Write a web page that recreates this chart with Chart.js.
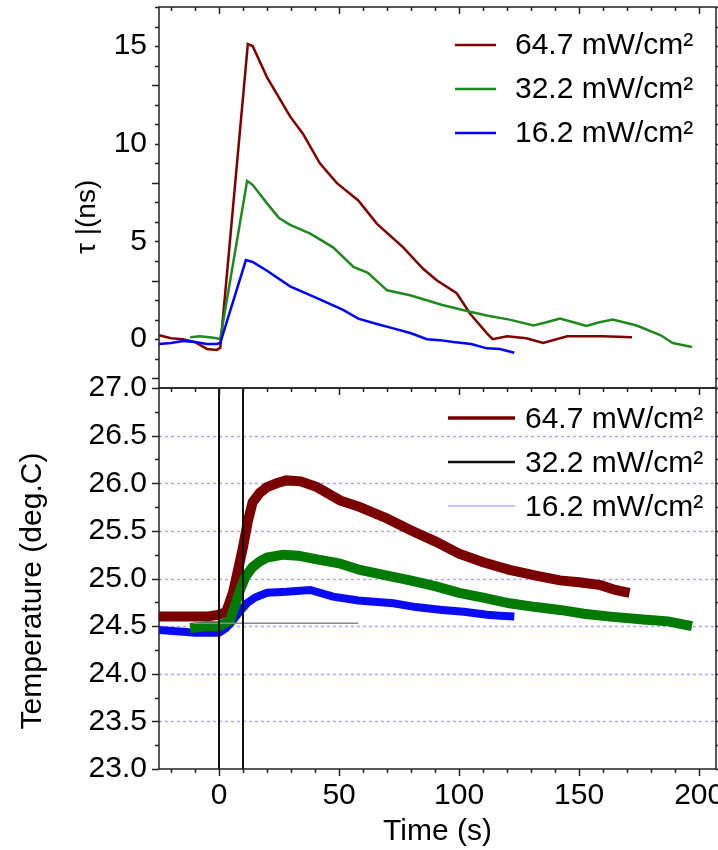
<!DOCTYPE html>
<html>
<head>
<meta charset="utf-8">
<title>Lifetime and temperature vs time</title>
<script src="https://cdn.jsdelivr.net/npm/chart.js@4.4.1/dist/chart.umd.min.js"></script>
<style>
  html, body { margin: 0; padding: 0; background: #fff; }
  #chart-box { width: 718px; height: 850px; }
</style>
</head>
<body>
<div id="chart-box"><canvas id="mainChart"></canvas></div>
<script>
// Tick labels
const timeTicks = [0, 50, 100, 150, 200];
const tauTicks = [0, 5, 10, 15];
const tempTicks = [23.0, 23.5, 24.0, 24.5, 25.0, 25.5, 26.0, 26.5, 27.0];

// Legend labels (irradiance)
const seriesLabels = ['64.7 mW/cm²', '32.2 mW/cm²', '16.2 mW/cm²'];

// Lifetime tau (ns) vs time (s), upper panel
const tau64Time = [-25, -20, -15, -10, -5, -1, 0.5, 12, 14, 20, 29.6, 35, 42, 49, 58, 65.8, 76.7, 85, 90.8, 99, 104.6, 111.6, 114, 120, 128, 135, 145, 160, 172];
const tau64Value = [0.2, 0.05, 0.0, -0.15, -0.5, -0.55, -0.45, 15.1, 15.0, 13.4, 11.4, 10.5, 9.0, 8.0, 7.1, 5.9, 4.7, 3.6, 3.0, 2.35, 1.3, 0.3, 0.0, 0.15, 0.05, -0.2, 0.15, 0.15, 0.1];

const tau32Time = [-12, -8, -4, -1, 0.5, 11.7, 14, 20, 25, 29.6, 38, 47.5, 56, 62, 70, 79.6, 93, 104.6, 112, 121, 131, 136, 142, 148, 153, 158, 164, 174, 184, 189, 197];
const tau32Value = [0.1, 0.15, 0.1, 0.05, 0.0, 8.1, 7.9, 6.95, 6.2, 5.85, 5.4, 4.7, 3.7, 3.4, 2.5, 2.25, 1.75, 1.4, 1.2, 1.0, 0.7, 0.85, 1.05, 0.85, 0.67, 0.85, 1.0, 0.7, 0.2, -0.2, -0.4];

const tau16Time = [-25, -20, -15, -10, -5, -1, 0.5, 11.2, 14, 20, 29.6, 40.8, 51.7, 58, 65, 72.6, 80, 86.6, 92, 97.6, 105, 111.6, 117, 123];
const tau16Value = [-0.25, -0.2, -0.1, -0.15, -0.25, -0.25, -0.2, 4.05, 3.95, 3.5, 2.7, 2.1, 1.5, 1.05, 0.8, 0.55, 0.3, 0.0, -0.05, -0.15, -0.25, -0.47, -0.5, -0.7];

// Temperature (deg.C) vs time (s), lower panel
const temp64Time = [-25, -15, -5, 0, 3, 5.8, 8, 10, 12, 14, 17, 20, 24, 28, 34, 40.8, 50.4, 58.75, 70, 79.6, 90, 100, 110, 121, 132, 142, 150, 159, 165, 171];
const temp64Value = [24.6, 24.6, 24.6, 24.62, 24.65, 24.85, 25.1, 25.33, 25.6, 25.8, 25.9, 25.96, 26.0, 26.03, 26.02, 25.96, 25.82, 25.75, 25.63, 25.51, 25.39, 25.26, 25.17, 25.09, 25.03, 24.98, 24.96, 24.93, 24.88, 24.85];

const temp32Time = [-12, -5, 0, 4.6, 8.75, 11, 14, 17, 20, 26.7, 33, 40.8, 50, 58.75, 70, 79.6, 90, 100, 110, 121, 132, 142, 152, 163, 176.7, 187, 197];
const temp32Value = [24.48, 24.5, 24.5, 24.56, 24.88, 25.02, 25.12, 25.18, 25.22, 25.25, 25.24, 25.2, 25.16, 25.09, 25.03, 24.98, 24.92, 24.85, 24.8, 24.74, 24.7, 24.67, 24.63, 24.6, 24.57, 24.55, 24.5];

const temp16Time = [-25, -15, -10, -5, 0, 3, 5.8, 8.5, 11.6, 15, 20, 28, 38, 47.5, 58, 72.6, 82, 93, 102, 111.6, 117, 123];
const temp16Value = [24.46, 24.44, 24.43, 24.43, 24.43, 24.48, 24.56, 24.65, 24.74, 24.8, 24.85, 24.86, 24.88, 24.81, 24.77, 24.74, 24.7, 24.67, 24.65, 24.62, 24.61, 24.6];

// Baseline marker and light on/off markers
const baselineTime = [-10.8, 58];
const baselineValue = [24.53, 24.53];
const markerTimes = [0, 10];

const FONT = "'Liberation Sans', Arial, sans-serif";

// Build {x, y} points
function toPoints(xs, ys) {
    return xs.map((x, i) => ({ x: x, y: ys[i] }));
}

function lineSet(label, xs, ys, axis, color, width, order) {
    return {
        label: label,
        data: toPoints(xs, ys),
        yAxisID: axis,
        borderColor: color,
        backgroundColor: color,
        borderWidth: width,
        pointRadius: 0,
        showLine: true,
        tension: 0,
        order: order
    };
}

// Fixed axis width so both panels line up, no extra label padding
function fixWidth(scale) {
    scale.width = 159;
    scale.paddingTop = 0;
    scale.paddingBottom = 0;
}

// Frame, ticks, dashed grid, markers and legends
const panelDecor = {
    id: 'panelDecor',
    beforeDatasetsDraw(chart) {
        const { ctx, chartArea, scales } = chart;
        const y = scales.yTemp;
        ctx.save();
        ctx.strokeStyle = '#a8a8ff';
        ctx.lineWidth = 1.5;
        ctx.setLineDash([3, 3]);
        tempTicks.forEach(v => {
            if (v <= y.min || v >= y.max) return;
            const py = Math.round(y.getPixelForValue(v)) + 0.5;
            ctx.beginPath();
            ctx.moveTo(chartArea.left, py);
            ctx.lineTo(chartArea.right, py);
            ctx.stroke();
        });
        ctx.restore();
    },
    afterDatasetsDraw(chart) {
        const { ctx, scales } = chart;
        const x = scales.x;
        const y = scales.yTemp;
        ctx.save();
        ctx.strokeStyle = '#111';
        ctx.lineWidth = 2;
        markerTimes.forEach(t => {
            const px = Math.round(x.getPixelForValue(t));
            ctx.beginPath();
            ctx.moveTo(px, y.top);
            ctx.lineTo(px, y.bottom);
            ctx.stroke();
        });
        ctx.restore();
    },
    afterDraw(chart) {
        const { ctx, chartArea, scales } = chart;
        const x = scales.x;
        const left = chartArea.left;
        const right = chartArea.right;
        ctx.save();
        ctx.strokeStyle = '#222';
        ctx.lineWidth = 1.5;

        // Panel frames
        [scales.yTau, scales.yTemp].forEach(s => {
            ctx.strokeRect(left, s.top, right - left, s.bottom - s.top);
        });

        // Time ticks (every 10 s, long every 50 s)
        const xTickRows = [scales.yTau.top, scales.yTemp.top, scales.yTemp.bottom];
        for (let t = -20; t <= 200; t += 10) {
            const px = Math.round(x.getPixelForValue(t)) + 0.5;
            const len = t % 50 === 0 ? 7 : 4;
            xTickRows.forEach(py => {
                ctx.beginPath();
                ctx.moveTo(px, py);
                ctx.lineTo(px, py + len);
                ctx.stroke();
            });
        }

        // Vertical ticks on both sides
        function yTicks(scale, from, to, step, majorEvery) {
            const n = Math.round((to - from) / step);
            for (let i = 0; i <= n; i++) {
                const v = from + i * step;
                if (v < scale.min || v > scale.max) continue;
                const py = Math.round(scale.getPixelForValue(v)) + 0.5;
                const len = i % majorEvery === 0 ? 7 : 4;
                ctx.beginPath();
                ctx.moveTo(left - len, py);
                ctx.lineTo(left, py);
                ctx.moveTo(right, py);
                ctx.lineTo(right + len, py);
                ctx.stroke();
            }
        }
        yTicks(scales.yTau, -2, 17, 1, 5);
        yTicks(scales.yTemp, 23, 27, 0.25, 2);

        // Legends
        const tauColors = ['#800000', '#1e8a1e', '#0000ff'];
        const tempColors = ['#7a0000', '#111111', '#8c8cff'];
        const tempWidths = [3.5, 2.5, 1];
        ctx.font = '30px ' + FONT;
        ctx.fillStyle = '#000';
        ctx.textBaseline = 'alphabetic';
        seriesLabels.forEach((label, i) => {
            // upper panel legend
            let ly = 45 + i * 44;
            ctx.strokeStyle = tauColors[i];
            ctx.lineWidth = 2.5;
            ctx.beginPath();
            ctx.moveTo(455, ly);
            ctx.lineTo(496, ly);
            ctx.stroke();
            ctx.fillText(label, 515, ly + 9);

            // lower panel legend
            ly = 418 + i * 44;
            ctx.strokeStyle = tempColors[i];
            ctx.lineWidth = tempWidths[i];
            ctx.beginPath();
            ctx.moveTo(448, ly);
            ctx.lineTo(515, ly);
            ctx.stroke();
            ctx.fillText(label, 525, ly + 10);
        });
        ctx.restore();
    }
};

const tickFont = { family: FONT, size: 30 };

const chart = new Chart(document.getElementById('mainChart'), {
    type: 'scatter',
    data: {
        datasets: [
            lineSet(seriesLabels[0], tau64Time, tau64Value, 'yTau', '#800000', 2.5, 3),
            lineSet(seriesLabels[1], tau32Time, tau32Value, 'yTau', '#1e8a1e', 2.5, 2),
            lineSet(seriesLabels[2], tau16Time, tau16Value, 'yTau', '#0000ff', 2.5, 1),
            lineSet(seriesLabels[0], temp64Time, temp64Value, 'yTemp', '#7a0000', 10, 6),
            lineSet(seriesLabels[2], temp16Time, temp16Value, 'yTemp', '#0a0af5', 8, 5),
            lineSet(seriesLabels[1], temp32Time, temp32Value, 'yTemp', '#007a00', 10, 4),
            lineSet('baseline', baselineTime, baselineValue, 'yTemp', '#8a8a8a', 1.5, 0)
        ]
    },
    options: {
        responsive: true,
        maintainAspectRatio: false,
        animation: false,
        layout: { padding: { top: 7, right: 2, left: 0, bottom: 0 } },
        plugins: {
            legend: { display: false },
            tooltip: { enabled: false }
        },
        scales: {
            x: {
                type: 'linear',
                position: 'bottom',
                min: -25,
                max: 207,
                afterBuildTicks: s => { s.ticks = timeTicks.map(v => ({ value: v })); },
                afterFit: s => { s.height = 81; s.paddingLeft = 0; s.paddingRight = 0; },
                grid: { display: false, drawTicks: true, tickLength: 7 },
                border: { display: false },
                ticks: { font: tickFont, color: '#000', padding: 2, maxRotation: 0, autoSkip: false },
                title: { display: true, text: 'Time (s)', font: tickFont, color: '#000', padding: { top: 0, bottom: 0 } }
            },
            yTemp: {
                type: 'linear',
                position: 'left',
                stack: 'panels',
                stackWeight: 1,
                min: 23,
                max: 27,
                afterBuildTicks: s => { s.ticks = tempTicks.map(v => ({ value: v })); },
                afterFit: fixWidth,
                grid: { display: false, drawTicks: true, tickLength: 7 },
                border: { display: false },
                ticks: { font: tickFont, color: '#000', padding: 5, autoSkip: false, callback: v => v.toFixed(1) },
                title: { display: true, text: 'Temperature (deg.C)   ', font: tickFont, color: '#000', padding: { top: 15, bottom: 0 } }
            },
            yTau: {
                type: 'linear',
                position: 'left',
                stack: 'panels',
                stackWeight: 1,
                min: -2.5,
                max: 17,
                afterBuildTicks: s => { s.ticks = tauTicks.map(v => ({ value: v })); },
                afterFit: fixWidth,
                grid: { display: false, drawTicks: true, tickLength: 7 },
                border: { display: false },
                ticks: { font: tickFont, color: '#000', padding: 5, autoSkip: false },
                title: { display: true, text: 'τ |(ns)     ', font: { family: FONT, size: 28 }, color: '#000', padding: { top: 70, bottom: 0 } }
            }
        }
    },
    plugins: [panelDecor]
});
</script>
</body>
</html>
